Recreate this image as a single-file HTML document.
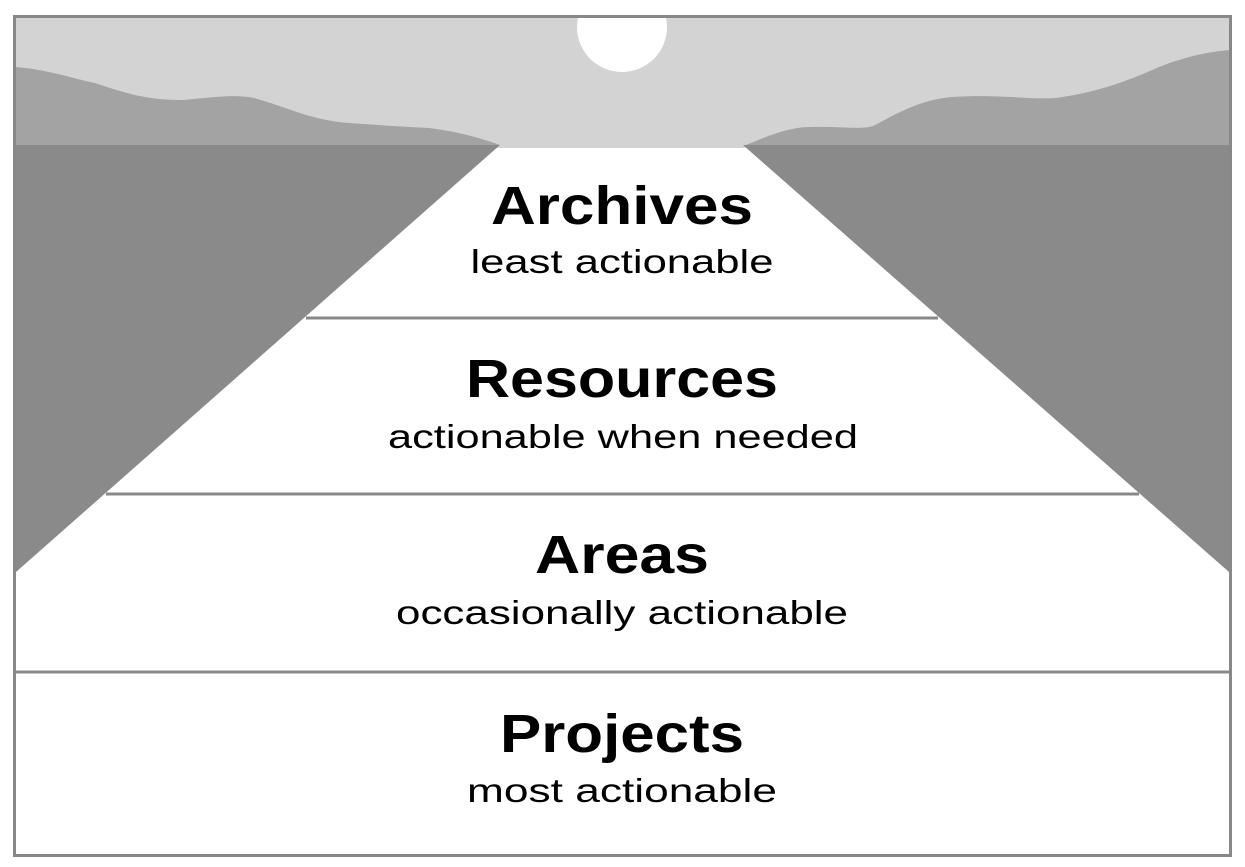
<!DOCTYPE html>
<html><head><meta charset="utf-8"><style>
html,body{margin:0;padding:0;background:#fff;}
svg{display:block;}
text{font-family:"Liberation Sans",sans-serif;fill:#000;text-anchor:middle;}
.t{font-weight:bold;font-size:54px;}
.s{font-size:33px;}
</style></head><body>
<svg width="1245" height="867" viewBox="0 0 1245 867">
<rect x="0" y="0" width="1245" height="867" fill="#fff"/>
<clipPath id="c"><rect x="16" y="18" width="1213" height="836"/></clipPath>
<g clip-path="url(#c)">
<rect x="16" y="18" width="1213" height="130" fill="#d3d3d3"/>
<circle cx="622" cy="27" r="45" fill="#fff"/>
<path d="M16,67 C50,70 70,78 95,83 C130,95 150,100 183,100 C215,97 235,94 254,98 C290,108 310,120 349,123 C390,126 410,127 429,128 C460,132 480,138 500,145 L16,145 Z" fill="#a3a3a3"/>
<path d="M746,145 C770,135 790,127 810,127 C840,126 860,130 873,126 C900,112 920,100 952,97 C1000,94 1030,100 1056,98 C1100,92 1130,80 1159,67 C1190,55 1210,52 1229,50 L1229,145 Z" fill="#a3a3a3"/>
<path d="M16,145 L500,145 L16,572 Z" fill="#8a8a8a"/>
<path d="M743,145 L1229,145 L1229,572 Z" fill="#8a8a8a"/>
</g>
<line x1="306" y1="318" x2="938" y2="318" stroke="#888" stroke-width="3"/>
<line x1="106" y1="494" x2="1139" y2="494" stroke="#888" stroke-width="3"/>
<line x1="16" y1="672" x2="1229" y2="672" stroke="#888" stroke-width="3"/>
<rect x="14.5" y="16.5" width="1216" height="839" fill="none" stroke="#888" stroke-width="3"/>
<text class="t" x="622" y="224" textLength="262" lengthAdjust="spacingAndGlyphs">Archives</text>
<text class="s" x="622" y="273" textLength="303" lengthAdjust="spacingAndGlyphs">least actionable</text>
<text class="t" x="622" y="397" textLength="312" lengthAdjust="spacingAndGlyphs">Resources</text>
<text class="s" x="623" y="448" textLength="470" lengthAdjust="spacingAndGlyphs">actionable when needed</text>
<text class="t" x="622" y="573" textLength="174" lengthAdjust="spacingAndGlyphs">Areas</text>
<text class="s" x="622" y="624" textLength="452" lengthAdjust="spacingAndGlyphs">occasionally actionable</text>
<text class="t" x="622" y="752" textLength="244" lengthAdjust="spacingAndGlyphs">Projects</text>
<text class="s" x="622" y="802" textLength="310" lengthAdjust="spacingAndGlyphs">most actionable</text>
</svg>
</body></html>
